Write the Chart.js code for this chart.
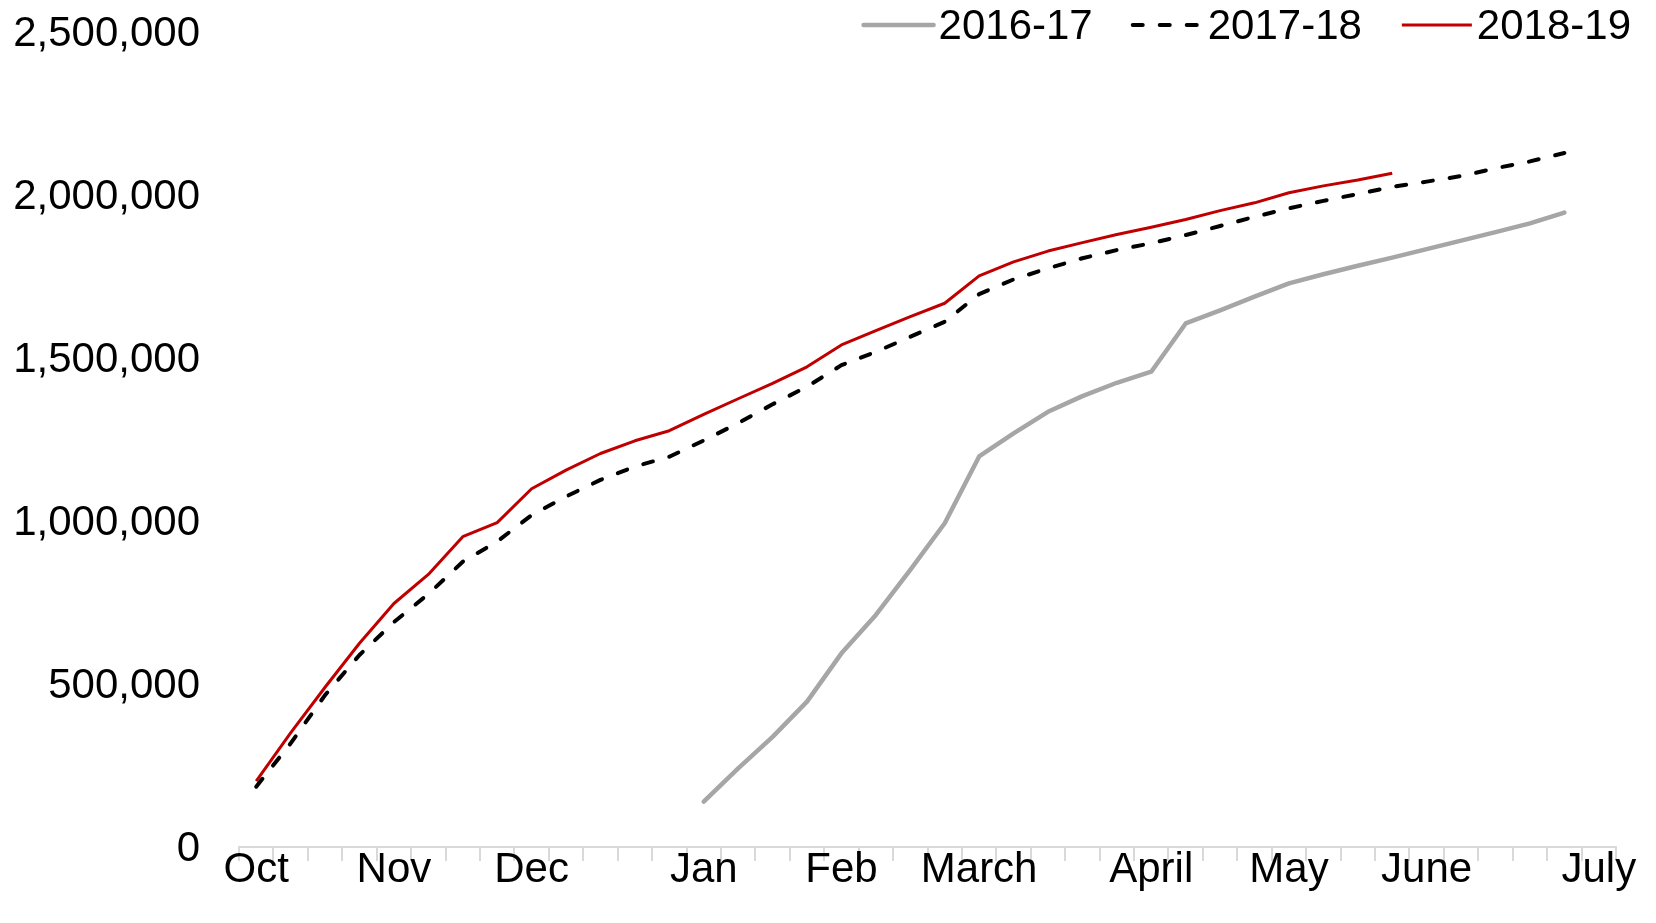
<!DOCTYPE html>
<html>
<head>
<meta charset="utf-8">
<script src="https://cdn.jsdelivr.net/npm/chart.js@4.4.1/dist/chart.umd.min.js"></script>
<style>
    body { margin: 0; background: #fff; }
</style>
</head>
<body>
<canvas id="seasonChart" width="1656" height="923"></canvas>
<script>
// one category per week, Oct to July; only some weeks get a month label
const weekLabels = [
    'Oct', '', '', '', 'Nov', '', '', '', 'Dec', '',
    '', '', '', 'Jan', '', '', '', 'Feb', '', '',
    '', 'March', '', '', '', '', 'April', '', '', '',
    'May', '', '', '', 'June', '', '', '', '', 'July'
];

const seriesNames = ['2016-17', '2017-18', '2018-19'];

// 2016-17 starts in January
const values1617 = [
    null, null, null, null, null, null, null, null, null, null,
    null, null, null, 139000, 241000, 338000, 446000, 594000, 712000, 850000,
    993000, 1198000, 1269000, 1335000, 1383000, 1424000, 1458000, 1606000, 1646000, 1688000,
    1729000, 1757000, 1783000, 1808000, 1834000, 1860000, 1886000, 1913000, 1946000
];

const values1718 = [
    185000, 318000, 466000, 589000, 690000, 776000, 875000, 937000, 1018000, 1075000,
    1126000, 1167000, 1197000, 1247000, 1300000, 1358000, 1412000, 1478000, 1519000, 1565000,
    1611000, 1696000, 1741000, 1775000, 1806000, 1831000, 1852000, 1877000, 1905000, 1933000,
    1959000, 1982000, 2003000, 2025000, 2041000, 2058000, 2082000, 2103000, 2129000
];

const values1819 = [
    202000, 350000, 490000, 625000, 747000, 836000, 952000, 995000, 1099000, 1156000,
    1207000, 1246000, 1277000, 1327000, 1375000, 1422000, 1473000, 1540000, 1584000, 1627000,
    1668000, 1752000, 1795000, 1828000, 1854000, 1879000, 1901000, 1925000, 1952000, 1976000,
    2007000, 2028000, 2046000, 2067000
];

const yTicks = [0, 500000, 1000000, 1500000, 2000000, 2500000];

const fontFamily = '"Liberation Sans", Arial, sans-serif';

// legend sits above the plot, right aligned, overlapping the top of the chart area
const topLegend = {
    id: 'topLegend',
    afterDraw: function(chart) {
        const ctx = chart.ctx;
        const datasets = chart.data.datasets;
        const y = 25;
        let x = 1631;

        ctx.save();
        ctx.font = '42px ' + fontFamily;
        ctx.textBaseline = 'middle';
        ctx.textAlign = 'left';

        for (let i = datasets.length - 1; i >= 0; i--) {
            const ds = datasets[i];
            x -= ctx.measureText(ds.label).width;
            ctx.fillStyle = '#000';
            ctx.fillText(ds.label, x, y + 2);
            x -= 5;

            ctx.beginPath();
            ctx.strokeStyle = ds.borderColor;
            ctx.lineWidth = ds.borderWidth;
            ctx.lineCap = ds.borderCapStyle || 'butt';
            ctx.setLineDash(ds.borderDash || []);
            ctx.moveTo(x - 70, y);
            ctx.lineTo(x, y);
            ctx.stroke();
            ctx.setLineDash([]);

            x -= 70 + 40;
        }
        ctx.restore();
    }
};

const chart = new Chart(document.getElementById('seasonChart'), {
    type: 'line',
    data: {
        labels: weekLabels,
        datasets: [
            {
                label: seriesNames[0],
                data: values1617,
                borderColor: '#A6A6A6',
                borderWidth: 4.5,
                borderCapStyle: 'round',
                borderJoinStyle: 'round'
            },
            {
                label: seriesNames[1],
                data: values1718,
                borderColor: '#000000',
                borderWidth: 4,
                borderDash: [10, 17],
                borderCapStyle: 'round',
                borderJoinStyle: 'round'
            },
            {
                label: seriesNames[2],
                data: values1819,
                borderColor: '#C00000',
                borderWidth: 3,
                borderJoinStyle: 'round'
            }
        ]
    },
    options: {
        responsive: false,
        animation: false,
        devicePixelRatio: 1,
        elements: {
            point: { radius: 0 },
            line: { tension: 0 }
        },
        layout: {
            padding: { top: 32, right: 40, left: 0, bottom: 0 }
        },
        plugins: {
            legend: { display: false },
            tooltip: { enabled: false }
        },
        scales: {
            x: {
                offset: true,
                grid: {
                    offset: true,
                    drawOnChartArea: false,
                    drawTicks: true,
                    tickLength: 14,
                    color: '#D9D9D9',
                    lineWidth: 2
                },
                border: { display: true, color: '#D9D9D9', width: 2 },
                ticks: {
                    autoSkip: false,
                    maxRotation: 0,
                    padding: -16,
                    color: '#000',
                    font: { family: fontFamily, size: 42 }
                },
                afterFit: function(scale) {
                    scale.height = 76;
                }
            },
            y: {
                min: 0,
                max: 2500000,
                afterBuildTicks: function(scale) {
                    scale.ticks = yTicks.map(v => ({ value: v }));
                },
                grid: { display: false, drawTicks: false },
                border: { display: false },
                ticks: {
                    padding: 39,
                    labelOffset: 2,
                    color: '#000',
                    font: { family: fontFamily, size: 42 },
                    callback: function(value) {
                        return value.toLocaleString('en-US');
                    }
                },
                afterFit: function(scale) {
                    // tick padding would otherwise push the plot down
                    scale.width = 239;
                    scale.paddingTop = 0;
                    scale.paddingBottom = 0;
                }
            }
        }
    },
    plugins: [topLegend]
});
</script>
</body>
</html>
